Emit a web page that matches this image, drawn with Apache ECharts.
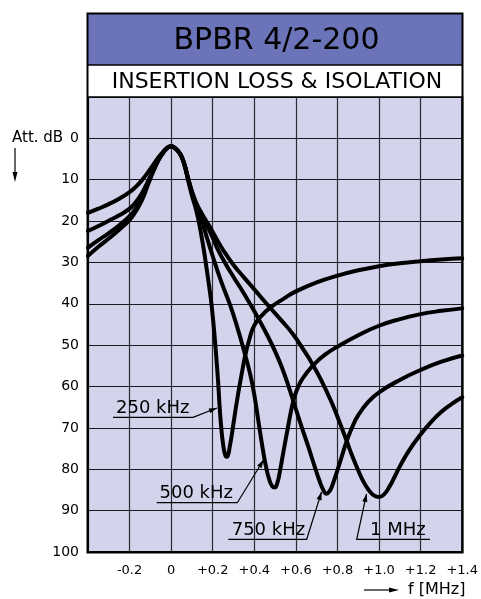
<!DOCTYPE html>
<html><head><meta charset="utf-8">
<script src="https://cdn.jsdelivr.net/npm/echarts@6/dist/echarts.min.js"></script>
<style>html,body{margin:0;padding:0;background:#fff}#c{width:481px;height:599px}</style>
</head><body><div id="c"></div>
<script>
// ---- data (frequency offset in MHz, attenuation in dB) ----
const f250 = [-0.4,-0.35,-0.3,-0.25,-0.2,-0.17,-0.14,-0.11,-0.085,-0.06,-0.04,-0.02,0,0.02,0.035,0.05,0.065,0.08,0.1,0.12,0.134,0.154,0.172,0.19,0.2,0.21,0.218,0.226,0.234,0.242,0.25,0.258,0.266,0.274,0.282,0.29,0.298,0.318,0.338,0.355,0.375,0.4,0.44,0.48,0.54,0.6,0.7,0.8,0.9,1.0,1.1,1.2,1.3,1.4];
const att250 = [28.4,26.2,24.2,22.1,19.7,17.6,14.9,11.0,7.9,5.2,3.6,2.4,1.9,2.4,3.2,4.4,6.7,9.8,13.8,17.3,20.4,26.0,32.0,38.5,43.0,48.5,53.5,59.0,65.5,70.5,74.0,76.2,77.0,76.5,74.5,72.2,69.5,63.0,57.3,52.8,48.8,45.2,42.6,40.8,38.8,37.0,34.8,33.2,31.9,30.9,30.2,29.7,29.3,29.0];

const f500 = [-0.4,-0.35,-0.3,-0.25,-0.2,-0.17,-0.14,-0.11,-0.085,-0.06,-0.04,-0.02,0,0.02,0.035,0.05,0.065,0.08,0.1,0.12,0.15,0.175,0.2,0.24,0.285,0.32,0.354,0.38,0.4,0.42,0.442,0.458,0.472,0.485,0.498,0.51,0.522,0.535,0.55,0.563,0.575,0.587,0.605,0.627,0.66,0.69,0.74,0.795,0.9,1.0,1.1,1.2,1.3,1.4];
const att500 = [26.4,24.6,22.9,21.0,18.8,16.9,14.3,10.7,7.7,5.1,3.6,2.4,1.9,2.4,3.2,4.4,6.6,9.5,13.3,16.3,20.4,24.5,28.5,34.5,40.5,46.0,52.0,57.0,62.0,68.5,75.5,79.8,82.5,84.0,84.4,83.4,80.8,77.2,73.0,69.5,66.3,63.6,60.8,58.5,56.2,54.5,52.3,50.5,47.6,45.3,43.7,42.5,41.7,41.1];

const f750 = [-0.4,-0.35,-0.3,-0.25,-0.2,-0.17,-0.14,-0.11,-0.085,-0.06,-0.04,-0.02,0,0.02,0.035,0.05,0.065,0.08,0.1,0.12,0.145,0.17,0.2,0.226,0.265,0.3,0.35,0.4,0.45,0.5,0.538,0.565,0.587,0.62,0.66,0.69,0.71,0.728,0.747,0.762,0.778,0.8,0.82,0.843,0.87,0.9,0.95,1.0,1.1,1.2,1.3,1.4];
const att750 = [22.4,21.2,19.9,18.6,17.0,15.4,13.2,10.2,7.5,5.0,3.5,2.4,1.9,2.4,3.2,4.4,6.5,9.4,13.0,15.8,18.5,20.9,24.0,27.0,30.6,33.5,37.5,41.8,46.4,51.5,56.1,60.0,63.4,68.6,74.6,79.3,82.3,84.6,85.9,85.3,83.5,80.2,77.0,73.4,69.9,66.9,63.6,61.4,58.4,56.0,54.0,52.5];

const f1m = [-0.4,-0.35,-0.3,-0.25,-0.2,-0.17,-0.14,-0.11,-0.085,-0.06,-0.04,-0.02,0,0.02,0.035,0.05,0.065,0.08,0.1,0.12,0.15,0.18,0.215,0.25,0.3,0.35,0.4,0.47,0.53,0.587,0.63,0.68,0.723,0.77,0.81,0.843,0.875,0.9,0.925,0.95,0.975,1.0,1.025,1.05,1.075,1.1,1.14,1.19,1.25,1.3,1.35,1.4];
const att1m = [18.0,17.0,15.9,14.6,13.0,11.7,10.1,8.1,6.3,4.5,3.3,2.3,1.9,2.4,3.2,4.4,6.4,9.3,12.8,15.5,18.4,20.9,24.0,27.0,30.6,33.6,36.5,40.6,44.0,47.4,50.6,54.6,58.6,63.6,68.6,73.0,77.3,80.3,83.0,85.0,86.3,86.7,86.0,84.2,81.8,79.3,75.8,72.2,68.6,66.1,64.2,62.6];

const seriesNames = ['250 kHz','500 kHz','750 kHz','1 MHz'];
const titleText = 'BPBR 4/2-200';
const subtitleText = 'INSERTION LOSS & ISOLATION';
const yAxisName = 'Att. dB';
const xAxisName = 'f [MHz]';

const FONT = 'DejaVu Sans';
const pairs = (xs, ys) => xs.map((x, i) => [x, ys[i]]);

const chart = echarts.init(document.getElementById('c'), null, {renderer: 'canvas'});

function arrowHead(x1, y1, x2, y2, len, hw) {
  const dx = x2 - x1, dy = y2 - y1, d = Math.hypot(dx, dy);
  const ux = dx / d, uy = dy / d;
  const bx = x2 - ux * len, by = y2 - uy * len;
  return [[x2, y2], [bx - uy * hw, by + ux * hw], [bx + uy * hw, by - ux * hw]];
}

function annotation(name, textX, textY, ulX1, ulX2, ulY, fromX, tipX, tipY) {
  const head = arrowHead(fromX, ulY, tipX, tipY, 8, 2.6);
  const pts = fromX === ulX2
    ? [[ulX1, ulY], [ulX2, ulY], [tipX, tipY]]
    : [[ulX2, ulY], [ulX1, ulY], [tipX, tipY]];
  return [
    {type: 'text', z: 10, style: {text: name, x: textX, y: textY, font: '18px "' + FONT + '"', fill: '#000', verticalAlign: 'middle', align: 'left'}},
    {type: 'polyline', z: 10, shape: {points: pts}, style: {stroke: '#000', lineWidth: 1.2, fill: null}},
    {type: 'polygon', z: 10, shape: {points: head}, style: {fill: '#000'}}
  ];
}

const graphics = [
  {type: 'rect', z: 1, shape: {x: 88, y: 14, width: 374, height: 51}, style: {fill: '#6b74b9'}},
  {type: 'rect', z: 1, shape: {x: 88, y: 65, width: 374, height: 32}, style: {fill: '#ffffff'}},
  {type: 'line', z: 2, shape: {x1: 88, y1: 65, x2: 462, y2: 65}, style: {stroke: '#000', lineWidth: 1.5}},
  {type: 'line', z: 2, shape: {x1: 88, y1: 97, x2: 462, y2: 97}, style: {stroke: '#000', lineWidth: 1.5}},
  {type: 'rect', z: 3, shape: {x: 87.5, y: 13.5, width: 375, height: 539}, style: {fill: null, stroke: '#000', lineWidth: 2}},
  {type: 'text', z: 4, style: {text: titleText, x: 276.5, y: 41.5, font: '30px "' + FONT + '"', fill: '#000', align: 'center', verticalAlign: 'middle'}},
  {type: 'text', z: 4, style: {text: subtitleText, x: 277, y: 82.5, font: '22px "' + FONT + '"', fill: '#000', align: 'center', verticalAlign: 'middle'}},
  {type: 'text', z: 4, style: {text: yAxisName, x: 12, y: 138, font: '15px "' + FONT + '"', fill: '#000', align: 'left', verticalAlign: 'middle'}},
  {type: 'line', z: 4, shape: {x1: 15, y1: 148, x2: 15, y2: 174}, style: {stroke: '#000', lineWidth: 1.2}},
  {type: 'polygon', z: 4, shape: {points: [[15, 182], [12.5, 172], [17.5, 172]]}, style: {fill: '#000'}},
  {type: 'text', z: 4, style: {text: xAxisName, x: 408, y: 590, font: '16px "' + FONT + '"', fill: '#000', align: 'left', verticalAlign: 'middle'}},
  {type: 'line', z: 4, shape: {x1: 364, y1: 590, x2: 390, y2: 590}, style: {stroke: '#000', lineWidth: 1.2}},
  {type: 'polygon', z: 4, shape: {points: [[399, 590], [389, 587.5], [389, 592.5]]}, style: {fill: '#000'}},
  ...annotation(seriesNames[0], 116, 408.3, 113, 193, 417.3, 193, 217, 408),
  ...annotation(seriesNames[1], 159.5, 493.3, 156.7, 237.3, 502.7, 237.3, 263.5, 460),
  ...annotation(seriesNames[2], 231.7, 530, 228.3, 306.7, 539.3, 306.7, 321.5, 492),
  ...annotation(seriesNames[3], 370, 530, 356.7, 430, 539.3, 356.7, 366.5, 494)
];

function xLabel(v) {
  const r = Math.round(v * 10) / 10;
  if (r <= -0.35) return '';
  if (r === 0) return '0';
  return (r > 0 ? '+' : '') + r.toFixed(1);
}

const curveStyle = {color: '#000', width: 4, cap: 'round', join: 'round'};
const mk = (name, xs, ys) => ({
  name, type: 'line', data: pairs(xs, ys), showSymbol: false, smooth: 0.5,
  lineStyle: curveStyle, itemStyle: {color: '#000'}, z: 5, clip: true
});

chart.setOption({
  animation: false,
  backgroundColor: '#ffffff',
  grid: {left: 88, right: 18, top: 97, bottom: 47, show: true, backgroundColor: '#d3d3eb', borderColor: '#000', borderWidth: 2},
  xAxis: {
    type: 'value', min: -0.4, max: 1.4, interval: 0.2,
    axisLine: {show: true, onZero: false, lineStyle: {color: '#000', width: 2}},
    axisTick: {show: false},
    splitLine: {show: true, lineStyle: {color: '#2a2a35', width: 1.2}},
    axisLabel: {formatter: xLabel, fontFamily: FONT, fontSize: 13, color: '#000', margin: 12, showMinLabel: true, showMaxLabel: true}
  },
  yAxis: {
    type: 'value', inverse: true, min: -10, max: 100, interval: 10,
    axisLine: {show: true, onZero: false, lineStyle: {color: '#000', width: 2}},
    axisTick: {show: false},
    splitLine: {show: true, lineStyle: {color: '#1a1a22', width: 1.2}},
    axisLabel: {formatter: v => (v < 0 ? '' : String(v)), fontFamily: FONT, fontSize: 14, color: '#000', margin: 9, showMinLabel: true, showMaxLabel: true}
  },
  series: [
    mk(seriesNames[0], f250, att250),
    mk(seriesNames[1], f500, att500),
    mk(seriesNames[2], f750, att750),
    mk(seriesNames[3], f1m, att1m)
  ],
  graphic: graphics
});
</script>
</body></html>
